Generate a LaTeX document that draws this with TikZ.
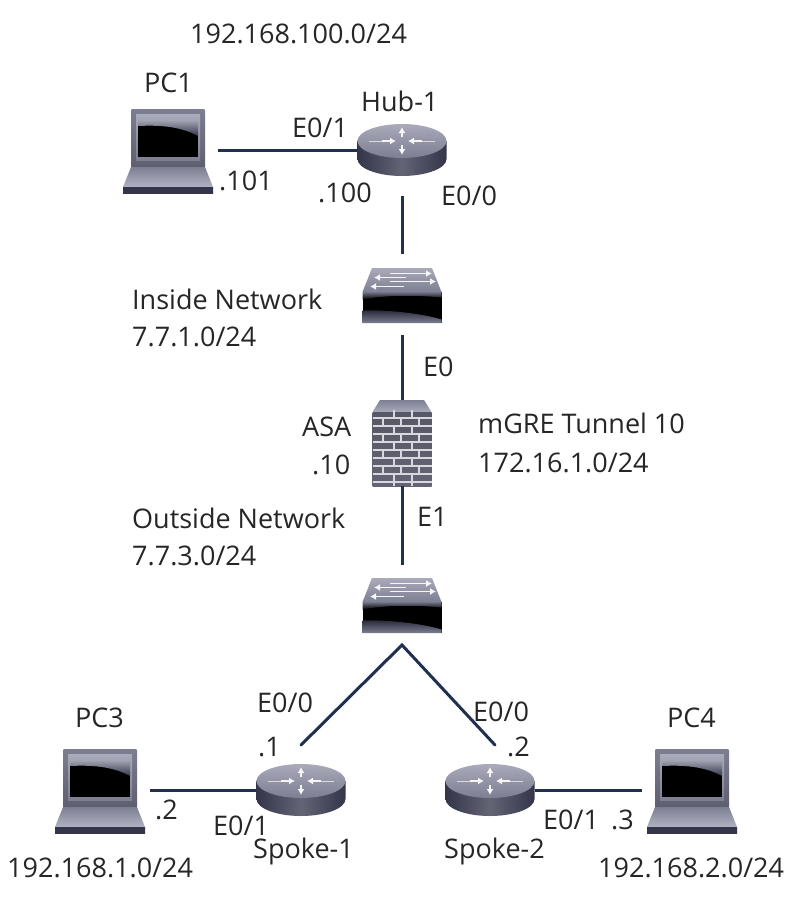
\documentclass[tikz,border=0pt]{standalone}
\usepackage{fontspec}
\setmainfont{Open Sans}
\usetikzlibrary{arrows.meta}
\definecolor{linkc}{HTML}{1F3050}
\definecolor{devdark}{HTML}{34354A}
\definecolor{devmid}{HTML}{7C7E92}
\definecolor{devlight}{HTML}{A9AABA}
\tikzset{
  link/.style={draw=linkc,line width=3pt},
  lbl/.style={inner sep=0pt,font=\fontsize{27}{27}\selectfont,text=black!85,anchor=base west},
  devlaptop/.style={inner sep=0pt,minimum width=90pt,minimum height=84pt},
  devrouter/.style={inner sep=0pt,minimum width=89pt,minimum height=52pt},
  devswitch/.style={inner sep=0pt,minimum width=79pt,minimum height=55pt},
  devwall/.style={inner sep=0pt,minimum width=59pt,minimum height=86pt},
  mortar/.style={draw=white!70!devmid,line width=1.2pt},
  glyph/.style={draw=white!92!devmid,line width=1.8pt,-{Latex[length=6pt,width=7pt]}}
}
\newcommand{\laptopdraw}[2]{%
\begin{scope}[shift={(#1,#2)}]
  \shade[top color=devmid,bottom color=devmid!75!black,rounded corners=1pt] (-37,-41) rectangle (37,18);
  \shade[top color=devlight,bottom color=devmid] (-32,-36) rectangle (32,10);
  \fill[black] (-30,-30) rectangle (30,7);
  \shade[top color=devmid!70!white,bottom color=devdark] (-30,-30) -- (30,-30) -- (30,-14) .. controls (12,-24) and (-10,-25) .. (-30,-24) -- cycle;
  \shade[top color=devmid,bottom color=devlight!90!white] (-37,17) -- (37,17) -- (45,37) -- (-45,37) -- cycle;
  \shade[top color=devdark,middle color=black,bottom color=devdark] (-45,37) rectangle (45,43);
\end{scope}}
\newcommand{\routerdraw}[2]{%
\begin{scope}[shift={(#1,#2)}]
  \shade[left color=devdark,right color=devdark,middle color=devmid!80!black] (-44.5,-9) -- (-44.5,9) .. controls (-44.5,18.5) and (-24,26) .. (0,26) .. controls (24,26) and (44.5,18.5) .. (44.5,9) -- (44.5,-9) -- cycle;
  \shade[top color=devlight,bottom color=devmid] (0,-9) ellipse [x radius=44.5,y radius=17];
  \draw[white!70!devmid,line width=1pt] (-33,-9) -- (-14,-9) (33,-9) -- (14,-9);
  \draw[glyph] (0,-13) -- (0,-23);
  \draw[glyph] (0,-5) -- (0,5);
  \draw[glyph] (-20,-9) -- (-6,-9);
  \draw[glyph] (20,-9) -- (6,-9);
\end{scope}}
\newcommand{\switchdraw}[2]{%
\begin{scope}[shift={(#1,#2)}]
  \shade[top color=devlight,bottom color=devmid] (-30,-27.5) -- (30,-27.5) -- (39.5,-3.5) -- (-39.5,-3.5) -- cycle;
  \fill[black] (-39.5,-4) rectangle (39.5,27.5);
  \shade[top color=devdark!70!black,bottom color=devmid] (-39.5,15) .. controls (-15,14) and (20,18) .. (39.5,24) -- (39.5,27.5) -- (-39.5,27.5) -- cycle;
  \shade[top color=devmid,bottom color=black] (-39.5,-4) -- (39.5,-4) -- (39.5,2) .. controls (10,-1) and (-20,0) .. (-39.5,4) -- cycle;
  \draw[glyph] (-12,-22) -- (30,-22);
  \draw[glyph] (4,-18) -- (-28,-18);
  \draw[glyph] (-12,-14) -- (34,-14);
  \draw[glyph] (2,-9) -- (-32,-9);
\end{scope}}
\newcommand{\walldraw}[2]{%
\begin{scope}[shift={(#1,#2)}]
  \shade[top color=devmid,bottom color=devlight] (-22,-43) -- (22,-43) -- (29.5,-31) -- (-29.5,-31) -- cycle;
  \shade[top color=devmid!70!black,middle color=black,bottom color=devmid!80!black] (-29.5,-31) rectangle (29.5,43);
  \foreach \r in {0,...,8} {
    \draw[mortar] (-29.5,-25+\r*8) -- (29.5,-25+\r*8);
    \pgfmathsetmacro{\ya}{-33+\r*8}
    \pgfmathsetmacro{\yb}{-25+\r*8}
    \ifodd\r
      \foreach \x in {-19,-1,17} \draw[mortar] (\x,\ya) -- (\x,\yb);
    \else
      \foreach \x in {-8,10} \draw[mortar] (\x,\ya) -- (\x,\yb);
    \fi
  }
  \draw[mortar] (-8,39) -- (-8,43);
  \draw[mortar] (10,39) -- (10,43);
\end{scope}}
\begin{document}
\begin{tikzpicture}[x=1pt,y=-1pt]
\useasboundingbox (0,0) rectangle (800,908);
\fill[white] (0,0) rectangle (800,908);
% devices
\laptopdraw{168}{150}\node[devlaptop] (pc1) at (168,150) {};
\laptopdraw{100}{790}\node[devlaptop] (pc3) at (100,790) {};
\laptopdraw{692}{790}\node[devlaptop] (pc4) at (692,790) {};
\routerdraw{402}{150}\node[devrouter] (hub) at (402,150) {};
\routerdraw{301}{790}\node[devrouter] (spokea) at (301,790) {};
\routerdraw{490}{790}\node[devrouter] (spokeb) at (490,790) {};
\switchdraw{402}{295.5}\node[devswitch] (swa) at (402,295.5) {};
\switchdraw{402}{605.5}\node[devswitch] (swb) at (402,605.5) {};
\walldraw{402}{443}\node[devwall] (asa) at (402,443) {};
% connectors
\coordinate (apex) at (402,645);
\coordinate (enda) at (301,745);
\coordinate (endb) at (495,745);
\draw[link,shorten <=5pt] (pc1) -- (hub);
\draw[link,shorten <=5pt] (pc3) -- (spokea);
\draw[link,shorten >=5pt] (spokeb) -- (pc4);
\draw[link,shorten <=20pt,shorten >=14pt] (hub) -- (swa);
\draw[link,shorten <=12pt] (swa) -- (asa);
\draw[link,shorten >=13pt] (asa) -- (swb);
\draw[link,line cap=round] (enda) -- (apex) -- (endb);
% labels
\node[lbl] (t1) at (190,43) {192.168.100.0/24};
\node[lbl] (t2) at (144,92) {PC1};
\node[lbl] (t3) at (361,111) {Hub-1};
\node[lbl] (t4) at (292,137) {E0/1};
\node[lbl] (t5) at (219,190) {.101};
\node[lbl] (t6) at (318,202) {.100};
\node[lbl] (t7) at (441,205) {E0/0};
\node[lbl] (t8) at (132,309) {Inside Network};
\node[lbl] (t9) at (132,346) {7.7.1.0/24};
\node[lbl] (t10) at (423,376) {E0};
\node[lbl] (t11) at (302,436) {ASA};
\node[lbl] (t12) at (312,474) {.10};
\node[lbl] (t13) at (478,433) {mGRE Tunnel 10};
\node[lbl] (t14) at (478,472) {172.16.1.0/24};
\node[lbl] (t15) at (132,528) {Outside Network};
\node[lbl] (t16) at (132,565) {7.7.3.0/24};
\node[lbl] (t17) at (417,526) {E1};
\node[lbl] (t18) at (257,712) {E0/0};
\node[lbl] (t19) at (473,721) {E0/0};
\node[lbl] (t20) at (75,727) {PC3};
\node[lbl] (t21) at (667,727) {PC4};
\node[lbl] (t22) at (258,756) {.1};
\node[lbl] (t23) at (507,756) {.2};
\node[lbl] (t24) at (155,819) {.2};
\node[lbl] (t25) at (213,835) {E0/1};
\node[lbl] (t26) at (253,858) {Spoke-1};
\node[lbl] (t27) at (444,858) {Spoke-2};
\node[lbl] (t28) at (543,829) {E0/1};
\node[lbl] (t29) at (611,829) {.3};
\node[lbl] (t30) at (7,877) {192.168.1.0/24};
\node[lbl] (t31) at (598,877) {192.168.2.0/24};
\end{tikzpicture}
\end{document}
